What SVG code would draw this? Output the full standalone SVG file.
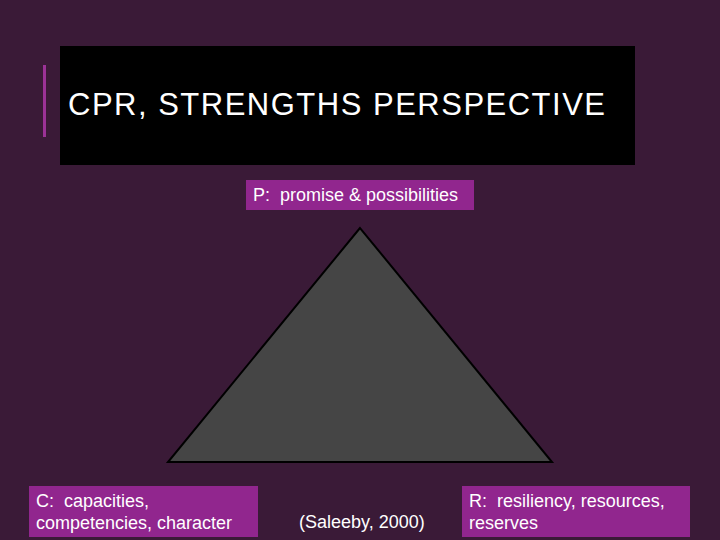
<svg xmlns="http://www.w3.org/2000/svg" width="720" height="540" viewBox="0 0 720 540">
<style>
.lbl{font-family:"Liberation Sans",Arial,sans-serif;font-size:18px;fill:#ffffff}
.box{fill:#91268e}
</style>
<rect width="720" height="540" fill="#3a1a37"/>
<g id="title">
<rect x="60" y="46" width="575" height="119" fill="#000000"/>
<rect x="43" y="65" width="3" height="72" fill="#9b3296"/>
<text x="68" y="115" font-family="Liberation Sans, Arial, sans-serif" font-size="31" fill="#ffffff" letter-spacing="1.5">CPR, STRENGTHS PERSPECTIVE</text>
</g>
<g id="triangle">
<polygon points="360,228 168,462 552,462" fill="#454545" stroke="#000000" stroke-width="2"/>
</g>
<g id="p">
<rect class="box" x="246" y="180" width="228" height="30"/>
<text class="lbl" x="253" y="201" xml:space="preserve">P:  promise &amp; possibilities</text>
</g>
<g id="c">
<rect class="box" x="29" y="486" width="229" height="51"/>
<text class="lbl" x="36" y="507" xml:space="preserve">C:  capacities,</text>
<text class="lbl" x="36" y="529">competencies, character</text>
</g>
<g id="r">
<rect class="box" x="462" y="486" width="228" height="51"/>
<text class="lbl" x="469" y="507" xml:space="preserve">R:  resiliency, resources,</text>
<text class="lbl" x="469" y="529">reserves</text>
</g>
<g id="cite">
<text class="lbl" x="299" y="528">(Saleeby, 2000)</text>
</g>
<g id="connectors"></g>
</svg>
